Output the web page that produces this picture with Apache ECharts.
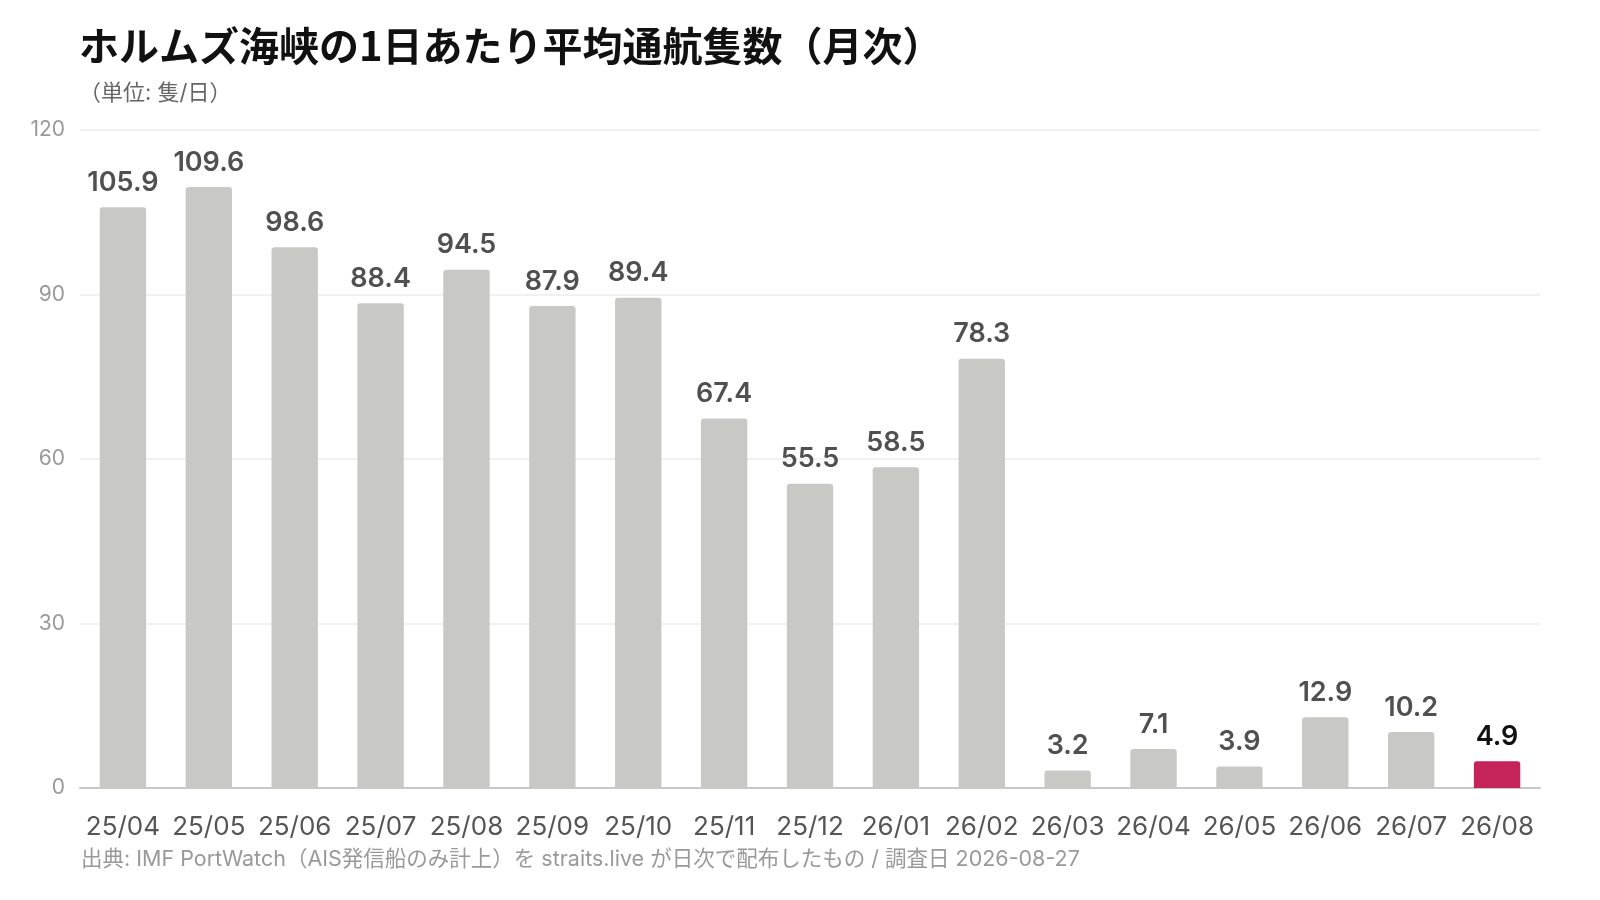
<!DOCTYPE html>
<html lang="ja" style="height: 100%">
<head>
  <meta charset="utf-8">
</head>
<body style="height: 100%; margin: 0; background: #fff">
  <div id="container" style="width: 1600px; height: 900px"></div>
  <script type="text/javascript" src="https://fastly.jsdelivr.net/npm/echarts@6.0.0/dist/echarts.min.js"></script>
  <script type="text/javascript">
    // データ
    var months = ['25/04', '25/05', '25/06', '25/07', '25/08', '25/09', '25/10', '25/11', '25/12',
      '26/01', '26/02', '26/03', '26/04', '26/05', '26/06', '26/07', '26/08'];
    var transits = [105.9, 109.6, 98.6, 88.4, 94.5, 87.9, 89.4, 67.4, 55.5,
      58.5, 78.3, 3.2, 7.1, 3.9, 12.9, 10.2, 4.9];
    var yTicks = [0, 30, 60, 90, 120];
    var highlightIndex = 16; // 最新月

    var FONT = '"Noto Sans CJK JP", "Noto Sans", sans-serif';
    var NUM_FONT = 'Inter, "Noto Sans CJK JP", sans-serif';

    var dom = document.getElementById('container');
    var myChart = echarts.init(dom, null, { renderer: 'canvas' });

    var option = {
      backgroundColor: '#ffffff',
      animation: false,
      title: {
        text: 'ホルムズ海峡の1日あたり平均通航隻数（月次）',
        subtext: '（単位: 隻/日）',
        left: 74,
        top: 21,
        itemGap: 16,
        textStyle: {
          fontFamily: FONT,
          fontSize: 40,
          fontWeight: 'bold',
          color: '#111'
        },
        subtextStyle: {
          fontFamily: NUM_FONT,
          fontSize: 22,
          color: '#666'
        }
      },
      grid: {
        left: 80,
        right: 60,
        top: 130,
        bottom: 112,
        containLabel: false
      },
      xAxis: {
        type: 'category',
        data: months,
        axisTick: { show: false },
        axisLine: { lineStyle: { color: '#c8c8c8', width: 2 } },
        axisLabel: {
          fontFamily: NUM_FONT,
          fontSize: 26,
          color: '#555',
          margin: 26,
          interval: 0
        }
      },
      yAxis: {
        type: 'value',
        min: yTicks[0],
        max: yTicks[yTicks.length - 1],
        interval: 30,
        axisLine: { show: false },
        axisTick: { show: false },
        splitLine: { lineStyle: { color: '#ececec', width: 1.5 } },
        axisLabel: {
          fontFamily: NUM_FONT,
          fontSize: 21,
          color: '#999',
          margin: 15
        }
      },
      series: [
        {
          type: 'bar',
          barCategoryGap: '46%',
          data: transits.map(function (v, i) {
            var hi = i === highlightIndex;
            return {
              value: v,
              itemStyle: { color: hi ? '#c4245a' : '#c8c9c4' },
              label: { color: hi ? '#111' : '#505050' }
            };
          }),
          itemStyle: { borderRadius: [3, 3, 0, 0] },
          label: {
            show: true,
            position: 'top',
            distance: 11,
            fontFamily: NUM_FONT,
            fontSize: 27,
            fontWeight: 600,
            formatter: function (p) { return p.value.toFixed(1); }
          }
        }
      ],
      graphic: [
        {
          type: 'text',
          left: 81,
          top: 849,
          style: {
            text: '出典: IMF PortWatch（AIS発信船のみ計上）を straits.live が日次で配布したもの / 調査日 2026-08-27',
            fontFamily: NUM_FONT,
            fontSize: 21.5,
            fill: '#999'
          }
        }
      ]
    };

    myChart.setOption(option);
    window.addEventListener('resize', myChart.resize);
  </script>
</body>
</html>
